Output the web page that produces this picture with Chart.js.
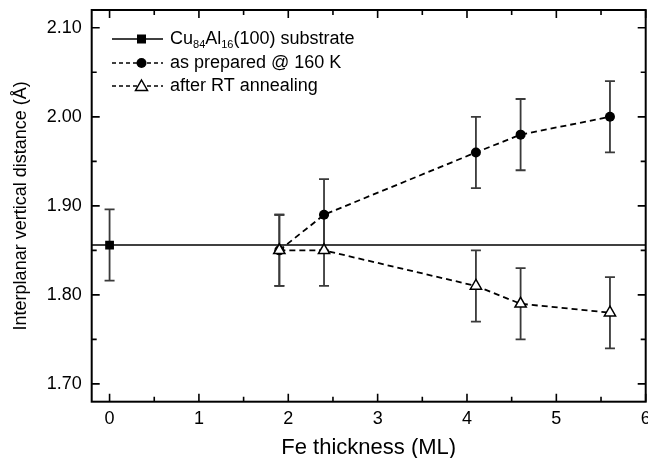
<!DOCTYPE html>
<html><head><meta charset="utf-8">
<script src="https://cdn.jsdelivr.net/npm/chart.js@4"></script>
<style>html,body{margin:0;padding:0;background:#fff}#wrap{width:648px;height:458px}</style>
</head><body><div id="wrap"><canvas id="c" width="648" height="458"></canvas></div>
<script>
// ---- data ----
const substrateX = [0];
const substrateY = [1.856];
const substrateErr = [0.04];
const preparedX = [1.9, 2.4, 4.1, 4.6, 5.6];
const preparedY = [1.85, 1.89, 1.96, 1.98, 2.00];
const preparedErr = [0.04, 0.04, 0.04, 0.04, 0.04];
const annealedX = [1.9, 2.4, 4.1, 4.6, 5.6];
const annealedY = [1.85, 1.85, 1.81, 1.79, 1.78];
const annealedErr = [0.04, 0.04, 0.04, 0.04, 0.04];
const xTicks = [0, 1, 2, 3, 4, 5, 6];
const xMinorTicks = [0.5, 1.5, 2.5, 3.5, 4.5, 5.5];
const yTicks = [1.70, 1.80, 1.90, 2.00, 2.10];
const yMinorTicks = [1.75, 1.85, 1.95, 2.05];
const X_MIN = -0.2, X_MAX = 6.0, Y_MIN = 1.68, Y_MAX = 2.12;

const pts = (xs, ys) => xs.map((x, i) => ({x, y: ys[i]}));
const FONT = '"Liberation Sans", Arial, sans-serif';
const RIGHT_GAP = 2.3;

const fixRight = {
  id: 'fixRight',
  afterLayout(chart) {
    const a = chart.chartArea, xs = chart.scales.x;
    const target = chart.width - RIGHT_GAP;
    a.right = target; a.width = a.right - a.left;
    xs.right = target; xs.width = xs.right - xs.left;
    xs.configure();
  }
};

const errorBars = {
  id: 'errorBars',
  beforeDatasetsDraw(chart) {
    const ctx = chart.ctx, xs = chart.scales.x, ys = chart.scales.y;
    const sets = [[substrateX, substrateY, substrateErr], [preparedX, preparedY, preparedErr], [annealedX, annealedY, annealedErr]];
    ctx.save();
    ctx.strokeStyle = '#3a3a3a';
    ctx.lineWidth = 1.8;
    sets.forEach(([X, Y, E]) => {
      X.forEach((x, i) => {
        const px = xs.getPixelForValue(x);
        const top = ys.getPixelForValue(Y[i] + E[i]);
        const bot = ys.getPixelForValue(Y[i] - E[i]);
        ctx.beginPath();
        ctx.moveTo(px, top); ctx.lineTo(px, bot);
        ctx.moveTo(px - 5, top); ctx.lineTo(px + 5, top);
        ctx.moveTo(px - 5, bot); ctx.lineTo(px + 5, bot);
        ctx.stroke();
      });
    });
    ctx.restore();
  }
};

const frame = {
  id: 'frame',
  afterDraw(chart) {
    const ctx = chart.ctx, a = chart.chartArea, xs = chart.scales.x, ys = chart.scales.y;
    ctx.save();
    ctx.strokeStyle = '#000';
    ctx.lineWidth = 2;
    ctx.strokeRect(a.left, a.top, a.right - a.left, a.bottom - a.top);
    ctx.lineWidth = 1.6;
    ctx.beginPath();
    const tx = (v, len) => { const p = xs.getPixelForValue(v);
      ctx.moveTo(p, a.bottom); ctx.lineTo(p, a.bottom - len);
      ctx.moveTo(p, a.top); ctx.lineTo(p, a.top + len); };
    const ty = (v, len) => { const p = ys.getPixelForValue(v);
      ctx.moveTo(a.left, p); ctx.lineTo(a.left + len, p);
      ctx.moveTo(a.right, p); ctx.lineTo(a.right - len, p); };
    xTicks.forEach(v => tx(v, 8));
    xMinorTicks.forEach(v => tx(v, 5));
    yTicks.forEach(v => ty(v, 8));
    yMinorTicks.forEach(v => ty(v, 5));
    ctx.stroke();

    // legend
    const rows = [39, 63, 86];
    const x0 = 112, x1 = 163, mx = 141.5, tx0 = 170;
    ctx.fillStyle = '#000';
    ctx.strokeStyle = '#000';
    ctx.lineWidth = 1.5;
    rows.forEach((ry, i) => {
      ctx.beginPath();
      ctx.setLineDash(i === 0 ? [] : [4, 3]);
      ctx.moveTo(x0, ry); ctx.lineTo(x1, ry); ctx.stroke();
      ctx.setLineDash([]);
      if (i === 0) { ctx.fillRect(mx - 4.5, ry - 4.5, 9, 9); }
      else if (i === 1) { ctx.beginPath(); ctx.arc(mx, ry, 5, 0, Math.PI * 2); ctx.fill(); }
      else {
        ctx.beginPath(); ctx.moveTo(mx, ry - 6); ctx.lineTo(mx + 6, ry + 4.5); ctx.lineTo(mx - 6, ry + 4.5); ctx.closePath();
        ctx.fillStyle = '#fff'; ctx.fill(); ctx.fillStyle = '#000'; ctx.stroke();
      }
    });
    ctx.textBaseline = 'middle';
    ctx.textAlign = 'left';
    const big = '18px ' + FONT, small = '11px ' + FONT;
    let x = tx0; const y = rows[0];
    const seg = (t, f, dy) => { ctx.font = f; ctx.fillText(t, x, y + dy); x += ctx.measureText(t).width; };
    seg('Cu', big, 0); seg('84', small, 6); seg('Al', big, 0); seg('16', small, 6); seg('(100) substrate', big, 0);
    ctx.font = big;
    ctx.fillText('as prepared @ 160 K', tx0, rows[1]);
    ctx.fillText('after RT annealing', tx0, rows[2]);
    ctx.restore();
  }
};

new Chart(document.getElementById('c'), {
  type: 'scatter',
  data: {
    datasets: [
      { label: 'substrate line', data: [{x: X_MIN, y: substrateY[0]}, {x: X_MAX, y: substrateY[0]}],
        showLine: true, borderColor: '#000', borderWidth: 1.6, pointRadius: 0, order: 3 },
      { label: 'Cu84Al16(100) substrate', data: pts(substrateX, substrateY), pointStyle: 'rect',
        pointRadius: 6.2, backgroundColor: '#000', borderColor: '#000', borderWidth: 0, order: 0 },
      { label: 'as prepared @ 160 K', data: pts(preparedX, preparedY), showLine: true,
        borderColor: '#000', borderWidth: 1.8, borderDash: [6, 4], pointStyle: 'circle',
        pointRadius: 5, backgroundColor: '#000', pointBorderWidth: 0, order: 2 },
      { label: 'after RT annealing', data: pts(annealedX, annealedY), showLine: true,
        borderColor: '#000', borderWidth: 1.8, borderDash: [6, 4], pointStyle: 'triangle',
        pointRadius: 6.5, backgroundColor: '#fff', pointBackgroundColor: '#fff', pointBorderColor: '#000', pointBorderWidth: 1.5, order: 1 }
    ]
  },
  options: {
    responsive: false, animation: false, devicePixelRatio: 1,
    layout: { padding: { top: 10, right: RIGHT_GAP, left: 0, bottom: 0 } },
    plugins: { legend: { display: false }, tooltip: { enabled: false } },
    scales: {
      x: {
        type: 'linear', min: X_MIN, max: X_MAX,
        afterBuildTicks: s => { s.ticks = xTicks.map(v => ({value: v})); },
        afterFit: s => { s.height = 56.3; },
        grid: { display: false, drawTicks: false }, border: { display: false },
        ticks: { color: '#000', font: { family: FONT, size: 18 }, padding: 7, maxRotation: 0, autoSkip: false },
        title: { display: true, text: 'Fe thickness (ML)', color: '#000', font: { family: FONT, size: 22, lineHeight: 1 }, padding: { top: 0, bottom: -1 } }
      },
      y: {
        type: 'linear', min: Y_MIN, max: Y_MAX,
        afterBuildTicks: s => { s.ticks = yTicks.map(v => ({value: v})); },
        afterFit: s => { s.width = 91.7; s.paddingTop = 0; s.paddingBottom = 0; },
        grid: { display: false, drawTicks: false }, border: { display: false },
        ticks: { color: '#000', font: { family: FONT, size: 18 }, padding: 10, callback: v => Number(v).toFixed(2) },
        title: { display: true, text: 'Interplanar vertical distance (Å)', color: '#000', font: { family: FONT, size: 18 }, padding: { top: 10, bottom: 0 } }
      }
    }
  },
  plugins: [fixRight, errorBars, frame]
});
</script></body></html>
